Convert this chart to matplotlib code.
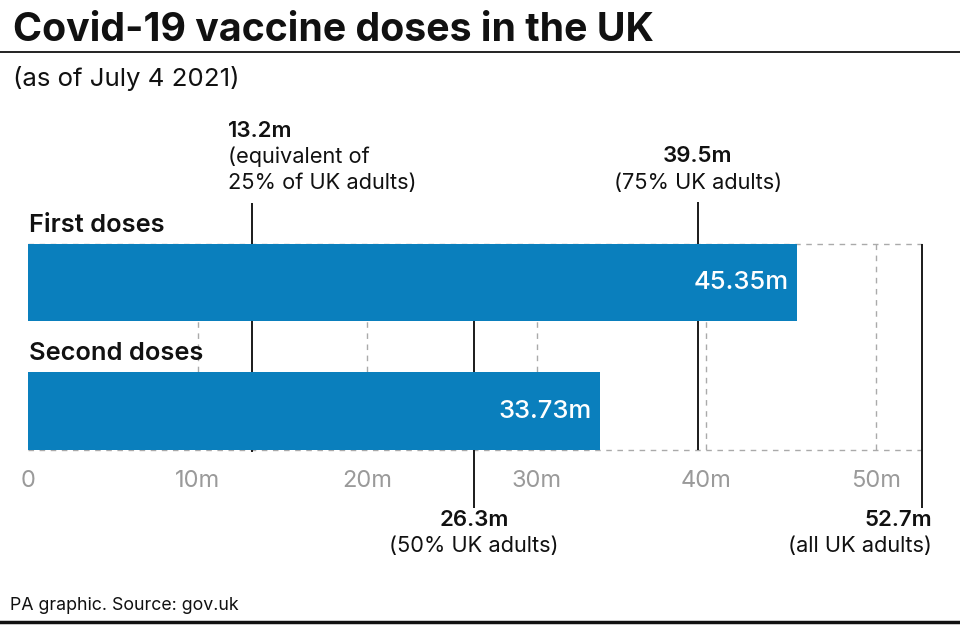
import matplotlib.pyplot as plt
from matplotlib.lines import Line2D

plt.rcParams['font.family'] = ['Inter', 'DejaVu Sans']

# data
categories = ['First doses', 'Second doses']
doses = [45.35, 33.73]
value_labels = ['45.35m', '33.73m']
ticks = [0, 10, 20, 30, 40, 50]
tick_labels = ['0', '10m', '20m', '30m', '40m', '50m']
ref_values = [13.2, 26.3, 39.5, 52.7]
ref_bold = ['13.2m', '26.3m', '39.5m', '52.7m']
ref_notes = [['(equivalent of', '25% of UK adults)'], ['(50% UK adults)'],
             ['(75% UK adults)'], ['(all UK adults)']]

BLUE = '#0a7fbd'
GREY = '#9a9a9a'
INK = '#111111'
W, H = 960, 628

fig = plt.figure(figsize=(W / 100, H / 100), dpi=100, facecolor='white')

# axes area in pixels
top_px, bot_px = 100, 560
x0_px, px_per_m = 28, 16.96
unit = 128.5       # pixels between bar centres
c0 = 282.5         # pixel y of first bar centre


def py(p):
    # pixel row -> data y
    return (p - c0) / unit


ax = fig.add_axes([x0_px / W, 1 - bot_px / H, (W - x0_px) / W, (bot_px - top_px) / H])
ax.set_xlim(0, (W - x0_px) / px_per_m)
ax.set_ylim(py(bot_px), py(top_px))
ax.axis('off')

ypos = list(range(len(categories)))
bh = 0.6

# dashed grid box
ax.hlines([ypos[0] - bh / 2, ypos[-1] + bh / 2], 0, ref_values[-1], colors='#aaaaaa',
          linestyles=(0, (4, 4)), lw=1, zorder=1)
ax.vlines(ticks[1:], ypos[0] - bh / 2, ypos[-1] + bh / 2, colors='#aaaaaa',
          linestyles=(0, (4, 4)), lw=1, zorder=1)

# reference lines
ref_spans = [(py(203), py(452)), (py(321), py(508)), (py(202), py(450)), (ypos[0] - bh / 2, py(508))]
for v, (a, b) in zip(ref_values, ref_spans):
    ax.vlines(v, a, b, colors='#1a1a1a', lw=1.4, zorder=2)

bars = ax.barh(ypos, doses, height=bh, color=BLUE, zorder=3)

for y, d, lab in zip(ypos, doses, value_labels):
    ax.annotate(lab, (d, y), xytext=(-8, 0), textcoords='offset pixels',
                ha='right', va='center', color='white', fontsize=18.5, fontweight='medium', zorder=4)

cat_px = [226, 353]
for p, cat in zip(cat_px, categories):
    ax.text(0.05, py(p), cat, ha='left', va='center',
            fontsize=18.3, fontweight='semibold', color=INK)

for t, lab in zip(ticks, tick_labels):
    ax.text(t, py(481), lab, ha='center', va='center', fontsize=17, color=GREY)

NOTE = 15.7
BOLD = 16
# reference annotations
# 13.2m: left aligned, above
ax.annotate(ref_bold[0], (ref_values[0], py(131)), xytext=(-24, 0), textcoords='offset pixels',
            ha='left', va='center', fontsize=BOLD, fontweight='semibold', color=INK)
for i, line in enumerate(ref_notes[0]):
    ax.annotate(line, (ref_values[0], py(157 + 26 * i)), xytext=(-24, 0), textcoords='offset pixels',
                ha='left', va='center', fontsize=NOTE, color=INK)
# 39.5m: centred, above
ax.text(ref_values[2], py(156), ref_bold[2], ha='center', va='center', fontsize=BOLD,
        fontweight='semibold', color=INK)
ax.text(ref_values[2], py(183), ref_notes[2][0], ha='center', va='center', fontsize=NOTE, color=INK)
# 26.3m: centred, below
ax.text(ref_values[1], py(520), ref_bold[1], ha='center', va='center', fontsize=BOLD,
        fontweight='semibold', color=INK)
ax.text(ref_values[1], py(546), ref_notes[1][0], ha='center', va='center', fontsize=NOTE, color=INK)
# 52.7m: right aligned, below
ax.annotate(ref_bold[3], (ref_values[3], py(520)), xytext=(10, 0), textcoords='offset pixels',
            ha='right', va='center', fontsize=BOLD, fontweight='semibold', color=INK)
ax.annotate(ref_notes[3][0], (ref_values[3], py(546)), xytext=(10, 0), textcoords='offset pixels',
            ha='right', va='center', fontsize=NOTE, color=INK)

# title, subtitle, footer, rules
fig.text(13 / W, 1 - 41 / H, 'Covid-19 vaccine doses in the UK', ha='left', va='baseline',
         fontsize=28.3, fontweight='bold', color=INK)
fig.add_artist(Line2D([0, 1], [1 - 52 / H, 1 - 52 / H], color=INK, lw=1.3))
fig.text(13 / W, 1 - 86 / H, '(as of July 4 2021)', ha='left', va='baseline',
         fontsize=18.6, color=INK)
fig.text(10 / W, 1 - 610 / H, 'PA graphic. Source: gov.uk', ha='left', va='baseline',
         fontsize=12.8, color=INK)
fig.add_artist(Line2D([0, 1], [1 - 621.5 / H, 1 - 621.5 / H], color=INK, lw=2.5))

fig.savefig('out.png', dpi=100, facecolor='white')
